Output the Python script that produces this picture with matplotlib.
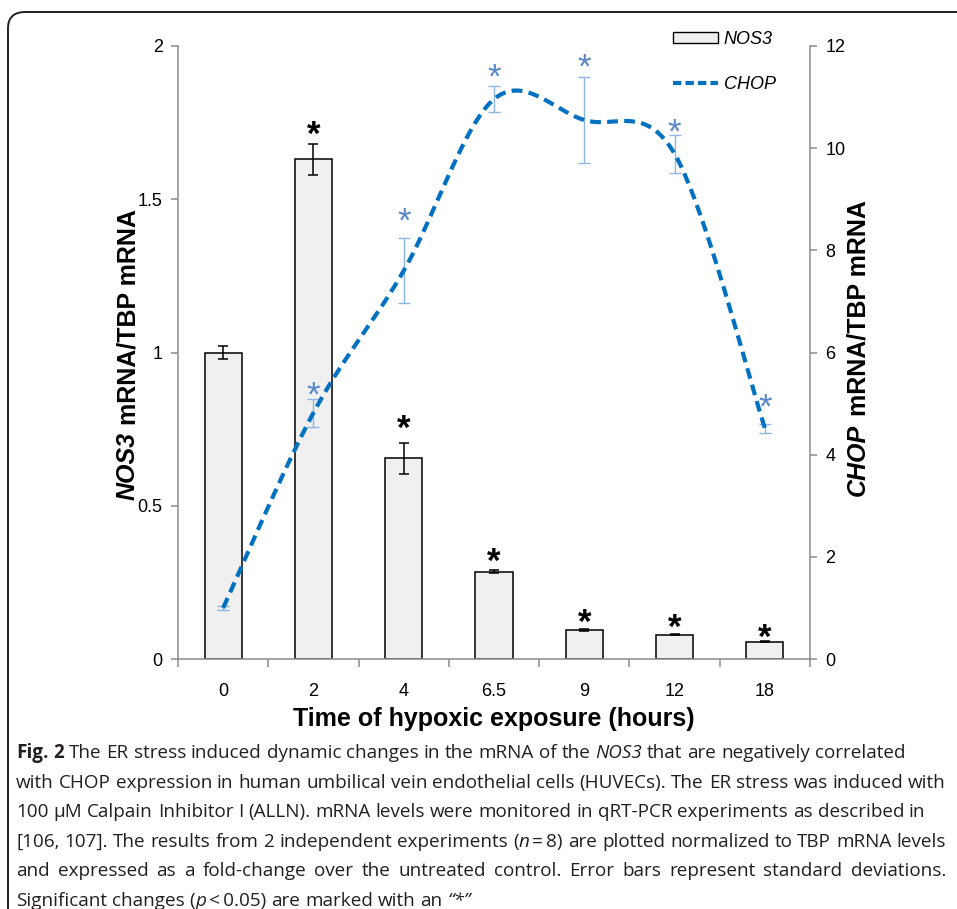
import numpy as np
import matplotlib
matplotlib.use('Agg')
import matplotlib.pyplot as plt
from matplotlib.patches import Rectangle, FancyBboxPatch
from matplotlib.lines import Line2D
from matplotlib.ticker import FormatStrFormatter

plt.rcParams['font.family'] = ['Liberation Sans', 'DejaVu Sans']

# ---- data ----
hours = ['0', '2', '4', '6.5', '9', '12', '18']
nos3 = [1.0, 1.63, 0.655, 0.285, 0.095, 0.079, 0.057]
nos3_err = [0.022, 0.05, 0.05, 0.004, 0.004, 0.002, 0.003]
chop = [1.0, 4.82, 7.6, 10.96, 10.55, 9.89, 4.52]
chop_err = [0.04, 0.27, 0.64, 0.25, 0.84, 0.37, 0.09]
# heights of the significance stars (NaN = no star)
nos3_star = [np.nan, 1.746, 0.786, 0.352, 0.153, 0.137, 0.104]
chop_star = [np.nan, 5.36, 8.77, 11.59, 11.79, 10.51, 5.13]

W, H = 957, 909
fig = plt.figure(figsize=(W / 100, H / 100), dpi=100)

# rounded frame around figure + caption
frame = FancyBboxPatch((8 / W, -0.2), 1.2, 1 - 12 / H + 0.2,
                       boxstyle='round,pad=0,rounding_size=0.018',
                       transform=fig.transFigure, fc='none', ec='#222222',
                       lw=1.4)
fig.patches.append(frame)

ax = fig.add_axes([178 / W, 1 - 659 / H, (810 - 178) / W, (659 - 46) / H])
ax2 = ax.twinx()

x = np.arange(len(hours))
ax.bar(x, nos3, width=0.41, color='#f0f0f0', edgecolor='black', linewidth=1.1,
       zorder=2)
ax.errorbar(x, nos3, yerr=nos3_err, fmt='none', ecolor='black', elinewidth=1.1,
            capsize=3.8, capthick=1.1, zorder=3)


def smooth(xs, ys, n=40):
    # Catmull-Rom style smoothing, similar to Excel's "smoothed line"
    pts = np.column_stack([xs, ys]).astype(float)
    P = np.vstack([pts[0], pts, pts[-1]])
    out = []
    for i in range(len(pts) - 1):
        p0, p1, p2, p3 = P[i], P[i + 1], P[i + 2], P[i + 3]
        c1 = p1 + (p2 - p0) / 6
        c2 = p2 - (p3 - p1) / 6
        t = np.linspace(0, 1, n)[:, None]
        seg = (1 - t) ** 3 * p1 + 3 * (1 - t) ** 2 * t * c1 + 3 * (1 - t) * t ** 2 * c2 + t ** 3 * p2
        out.append(seg if i == 0 else seg[1:])
    return np.vstack(out)


curve = smooth(x, chop)
ax2.errorbar(x, chop, yerr=chop_err, fmt='none', ecolor='#8db4e2', elinewidth=1.0,
             capsize=4, capthick=1.0, zorder=3)
ax2.plot(curve[:, 0], curve[:, 1], color='#0070c0', lw=3, ls=(0, (2.6, 1.5)),
         zorder=4)

star_fs = 25
for xi, s in zip(x, nos3_star):
    if not np.isnan(s):
        ax.annotate('*', (xi, s), xytext=(0, -0.6 * star_fs), textcoords='offset points',
                    ha='center', va='baseline', fontsize=star_fs, color='black',
                    fontweight='bold')
for xi, s in zip(x, chop_star):
    if not np.isnan(s):
        ax2.annotate('*', (xi, s), xytext=(0, -0.6 * star_fs), textcoords='offset points',
                     ha='center', va='baseline', fontsize=star_fs, color='#5a87c8')

# axes styling
ax.set_xlim(-0.5, len(hours) - 0.5)
ax.set_ylim(0, 2)
ax2.set_ylim(0, 12)
ax.set_yticks([0, 0.5, 1, 1.5, 2])
ax2.set_yticks(np.arange(0, 13, 2))
ax.yaxis.set_major_formatter(FormatStrFormatter('%g'))
ax.set_xticks(x)
ax.set_xticklabels(hours)
ax.set_xticks(np.arange(len(hours) + 1) - 0.5, minor=True)

spine_c = '#8c8c8c'
for a in (ax, ax2):
    a.spines['top'].set_visible(False)
    for s in a.spines.values():
        s.set_color(spine_c)
        s.set_linewidth(1.1)
ax.spines['right'].set_visible(False)
ax2.spines['left'].set_visible(False)
ax2.spines['bottom'].set_visible(False)

ax.tick_params(axis='y', direction='out', length=5, width=1.1, color=spine_c,
               labelsize=13, pad=6)
ax2.tick_params(axis='y', direction='out', length=5, width=1.1, color=spine_c,
                labelsize=13, pad=6)
ax.tick_params(axis='x', which='major', length=0, labelsize=13, pad=17)
ax.tick_params(axis='x', which='minor', direction='out', length=6, width=1.1,
               color=spine_c)

ax.set_xlabel('Time of hypoxic exposure (hours)', fontsize=18, fontweight='bold',
              labelpad=5)

# legend
handles = [Rectangle((0, 0), 1, 1, fc='#f0f0f0', ec='black', lw=1.0),
           Line2D([], [], color='#0070c0', lw=3, ls=(0, (2.0, 1.0)))]
ax2.legend(handles, ['NOS3', 'CHOP'], loc='upper left',
           bbox_to_anchor=(673 / W, 1 - 31 / H), bbox_transform=fig.transFigure,
           frameon=False, prop={'style': 'italic', 'size': 13}, handlelength=2.5,
           handleheight=0.55, labelspacing=1.55, handletextpad=0.3,
           borderpad=0, borderaxespad=0)

renderer = fig.canvas.get_renderer()


def vlabel(xpx, ycpx, runs, fs):
    # rotated label made of runs with different styles
    texts = []
    for txt, style in runs:
        t = fig.text(0, 0, txt, rotation=90, rotation_mode='anchor', ha='left',
                     va='center', fontsize=fs, fontweight='bold', fontstyle=style)
        texts.append(t)
    lens = [t.get_window_extent(renderer).height for t in texts]
    y = (H - ycpx) - sum(lens) / 2
    for t, l in zip(texts, lens):
        t.set_position((xpx / W, y / H))
        y += l


vlabel(128, 355, [('NOS3', 'italic'), (' mRNA/TBP mRNA', 'normal')], 18)
vlabel(858, 348, [('CHOP', 'italic'), (' mRNA/TBP mRNA', 'normal')], 18)

# caption, laid out word by word
cap_font = ['Open Sans', 'DejaVu Sans']
cap_fs = 13.6
cap_color = '#231f20'
lines = [
    ([[('Fig.', 'b')], [('2', 'b')], [('The', 'n')], [('ER', 'n')], [('stress', 'n')],
      [('induced', 'n')], [('dynamic', 'n')], [('changes', 'n')], [('in', 'n')],
      [('the', 'n')], [('mRNA', 'n')], [('of', 'n')], [('the', 'n')], [('NOS3', 'i')],
      [('that', 'n')], [('are', 'n')], [('negatively', 'n')], [('correlated', 'n')]], False),
    ([[(w, 'n')] for w in 'with CHOP expression in human umbilical vein endothelial cells (HUVECs). The ER stress was induced with'.split()], True),
    ([[(w, 'n')] for w in '100 \u00b5M Calpain Inhibitor I (ALLN). mRNA levels were monitored in qRT-PCR experiments as described in'.split()], False),
    ([[(w, 'n')] for w in '[106, 107]. The results from 2 independent experiments'.split()]
     + [[('(', 'n'), ('n', 'i'), ('\u2009=\u20098)', 'n')]]
     + [[(w, 'n')] for w in 'are plotted normalized to TBP mRNA levels'.split()], True),
    ([[(w, 'n')] for w in 'and expressed as a fold-change over the untreated control. Error bars represent standard deviations.'.split()], True),
    ([[(w, 'n')] for w in 'Significant changes'.split()]
     + [[('(', 'n'), ('p', 'i'), ('\u2009<\u20090.05)', 'n')]]
     + [[(w, 'n')] for w in 'are marked with an'.split()]
     + [[('\u201c*\u201d', 'i')]], False),
]
x_left, x_right = 16, 946
base0, step = 758, 29.6
space = 0.26 * cap_fs * 100 / 72
for li, (words, justify) in enumerate(lines):
    items = []
    widths = []
    for word in words:
        runs = []
        wsum = 0
        for txt, st in word:
            t = fig.text(0, 0, txt, fontsize=cap_fs, family=cap_font, color=cap_color,
                         fontweight='bold' if st == 'b' else 'normal',
                         fontstyle='italic' if st == 'i' else 'normal',
                         va='baseline', ha='left')
            w = t.get_window_extent(renderer).width
            runs.append((t, wsum))
            wsum += w
        items.append(runs)
        widths.append(wsum)
    gap = space
    if justify and len(words) > 1:
        gap = (x_right - x_left - sum(widths)) / (len(words) - 1)
    xp = x_left
    yb = H - (base0 + li * step)
    for runs, w in zip(items, widths):
        for t, off in runs:
            t.set_position(((xp + off) / W, yb / H))
        xp += w + gap

fig.savefig('out.png', dpi=100)
